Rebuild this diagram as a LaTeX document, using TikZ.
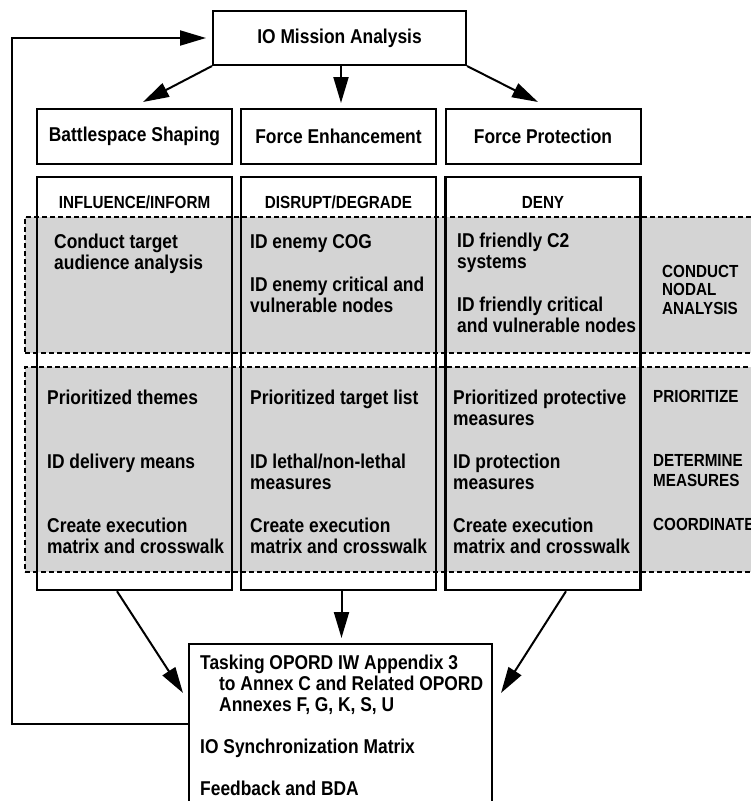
\documentclass[tikz,border=0pt]{standalone}
\usepackage{fontspec}
\setmainfont{Liberation Sans}[FakeStretch=0.87]
\usetikzlibrary{arrows.meta}
\definecolor{shade}{RGB}{212,212,212}
\newcommand\bodyfont{\fontsize{20}{21.5}\selectfont\bfseries}
\newcommand\capsfont{\fontsize{17.5}{18.5}\selectfont\bfseries}
\begin{document}
\begin{tikzpicture}[x=1pt,y=-1pt,
  titlebox/.style={draw, line width=2pt, inner sep=0pt, minimum width=195pt, minimum height=55pt, font=\bodyfont},
  colbox/.style={draw, line width=2.5pt, inner sep=0pt, minimum width=195pt, minimum height=413pt},
  graybox/.style={fill=shade, draw, line width=1.3pt, dash pattern=on 5pt off 3pt, inner sep=0pt, minimum width=735pt},
  head/.style={font=\capsfont, inner sep=0pt},
  body/.style={font=\bodyfont, anchor=base west, align=left, inner sep=0pt},
  side/.style={font=\capsfont, anchor=base west, align=left, inner sep=0pt},
  arr/.style={line width=2pt, -{Triangle[length=26pt,width=15pt]}},
]
\useasboundingbox (0,0) rectangle (751,801);
\clip (0,0) rectangle (751,801);

% shaded analysis bands
\node[graybox, minimum height=136pt] (g1) at (392.5,285) {};
\node[graybox, minimum height=205pt] (g2) at (392.5,469.5) {};

% top box
\node[draw, line width=2pt, inner sep=0pt, minimum width=253pt, minimum height=54pt, font=\bodyfont] (ioma) at (339.5,38) {IO Mission Analysis};

% category boxes
\node[titlebox] (rb1) at (134.5,136.5) {Battlespace Shaping};
\node[titlebox] (rb2) at (338.5,136.5) {Force Enhancement};
\node[titlebox] (rb3) at (543,136.5) {Force Protection};

% columns
\node[colbox] (col1) at (134.5,383.5) {};
\node[colbox] (col2) at (338.5,383.5) {};
\node[colbox] (col3) at (543,383.5) {};

\node[head] (h1) at (134.5,202) {INFLUENCE/INFORM};
\node[head] (h2) at (338.5,202) {DISRUPT/DEGRADE};
\node[head] (h3) at (543,202) {DENY};

% column texts, upper band (anchored at the last line's baseline)
\node[body] (a1) at (54,269.5) {Conduct target\\audience analysis};
\node[body] (a2) at (250,248) {ID enemy COG};
\node[body] (a3) at (250,312.5) {ID enemy critical and\\vulnerable nodes};
\node[body] (a4) at (457,268.5) {ID friendly C2\\systems};
\node[body] (a5) at (457,332.5) {ID friendly critical\\and vulnerable nodes};

% column texts, lower band
\node[body] (p1) at (47,404) {Prioritized themes};
\node[body] (p2) at (47,468) {ID delivery means};
\node[body] (p3) at (47,553.5) {Create execution\\matrix and crosswalk};
\node[body] (q1) at (250,404) {Prioritized target list};
\node[body] (q2) at (250,489.5) {ID lethal/non-lethal\\measures};
\node[body] (q3) at (250,553.5) {Create execution\\matrix and crosswalk};
\node[body] (r1) at (453,425.5) {Prioritized protective\\measures};
\node[body] (r2) at (453,489.5) {ID protection\\measures};
\node[body] (r3) at (453,553.5) {Create execution\\matrix and crosswalk};

% side labels
\node[side] (s1) at (662,314) {CONDUCT\\NODAL\\ANALYSIS};
\node[side] (s2) at (653,402) {PRIORITIZE};
\node[side, font=\fontsize{17.5}{20}\selectfont\bfseries] (s3) at (653,486) {DETERMINE\\MEASURES};
\node[side] (s4) at (653,530) {COORDINATE};

% bottom box
\node[draw, line width=2pt, inner sep=0pt, minimum width=303pt, minimum height=168pt] (bot) at (340.5,728) {};
\node[body, font=\fontsize{20}{21}\selectfont\bfseries] (bt) at (200,795)
  {Tasking OPORD IW Appendix 3\\\hspace*{19pt}to Annex C and Related OPORD\\\hspace*{19pt}Annexes F, G, K, S, U\\[21pt]IO Synchronization Matrix\\[21pt]Feedback and BDA};

% connectors
\coordinate (t1) at (143,102);
\coordinate (t3) at (538,102);
\coordinate (b1) at (183,693);
\coordinate (b3) at (501,693);
\coordinate (fb) at (12,724);
\draw[arr] (ioma.south west) -- (t1);
\draw[arr, shorten >=5pt] ([xshift=1.5pt]ioma.south) -- ([xshift=1.5pt]ioma.south |- rb2.north);
\draw[arr] (ioma.south east) -- (t3);
\draw[arr] ([xshift=-17.5pt]col1.south) -- (b1);
\draw[arr, shorten >=5pt] ([xshift=3pt]col2.south) -- ([xshift=3pt]col2.south |- bot.north);
\draw[arr] ([xshift=23pt]col3.south) -- (b3);
\draw[arr, shorten >=6pt] (bot.west |- fb) -- (fb) |- (ioma.west);
\end{tikzpicture}
\end{document}
